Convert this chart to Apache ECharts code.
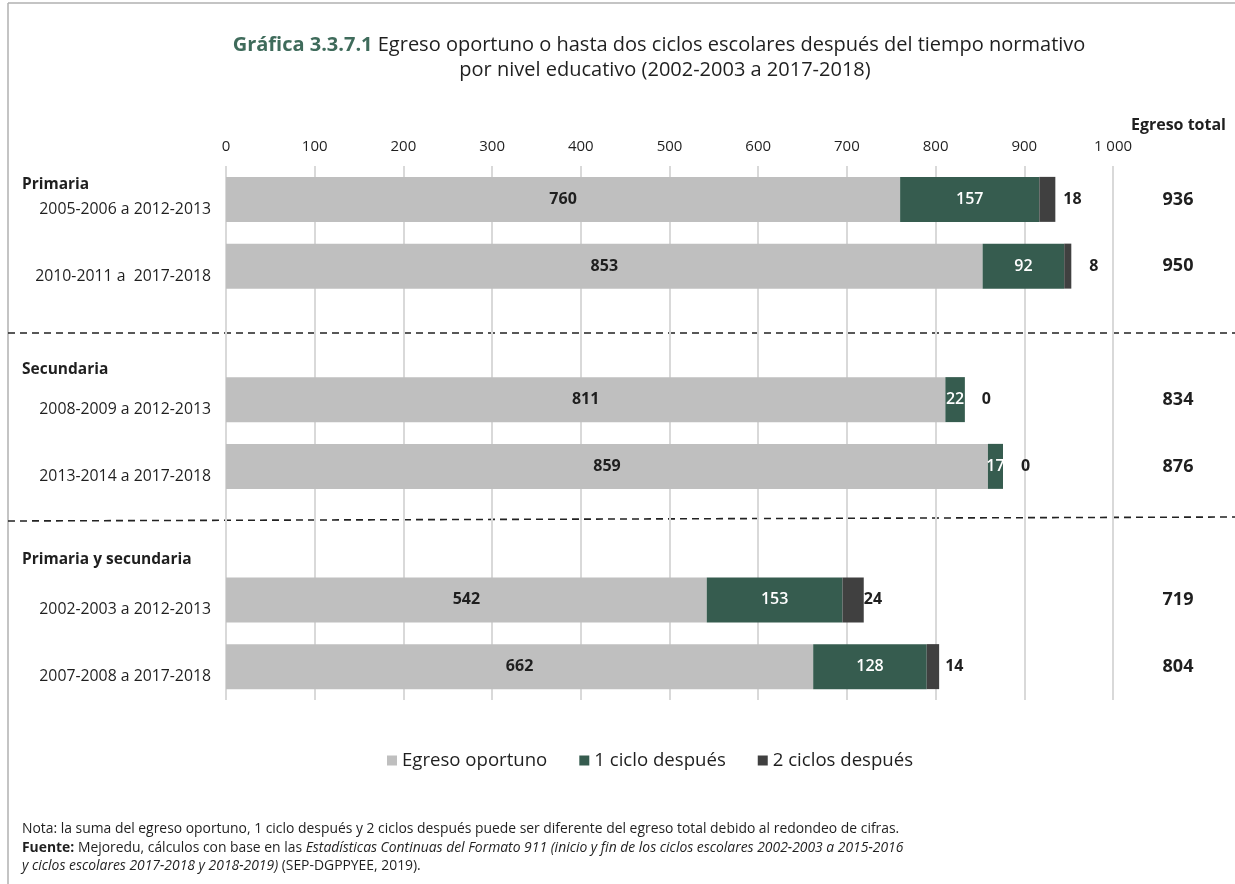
<!DOCTYPE html>
<html>
<head>
<meta charset="utf-8">
<script src="https://cdn.jsdelivr.net/npm/echarts@6/dist/echarts.min.js"></script>
<style>
  html, body { margin: 0; padding: 0; background: #ffffff; }
  #chart { width: 1235px; height: 884px; }
</style>
</head>
<body>
<div id="chart"></div>
<script>
// Cohorts (rows) and the level each pair of rows belongs to
const levels = ['Primaria', 'Secundaria', 'Primaria y secundaria'];
const cohorts = [
  '2005-2006 a 2012-2013',
  '2010-2011 a  2017-2018',
  '2008-2009 a 2012-2013',
  '2013-2014 a 2017-2018',
  '2002-2003 a 2012-2013',
  '2007-2008 a 2017-2018'
];
const cohortLevel = [0, 0, 1, 1, 2, 2];

// Graduates (thousands)
const egresoOportuno = [760, 853, 811, 859, 542, 662];
const unCiclo = [157, 92, 22, 17, 153, 128];
const dosCiclos = [18, 8, 0, 0, 24, 14];
const egresoTotal = [936, 950, 834, 876, 719, 804];

const xTickLabels = { 1000: '1 000' };
const seriesNames = ['Egreso oportuno', '1 ciclo después', '2 ciclos después'];

// Build the category slots: an empty slot separates each level
const slotIndex = [];
const slotLabels = [];
cohorts.forEach((c, i) => {
  if (i > 0 && cohortLevel[i] !== cohortLevel[i - 1]) slotLabels.push('');
  slotIndex.push(slotLabels.length);
  slotLabels.push(c);
});
function toSlots(values) {
  const out = slotLabels.map(() => null);
  values.forEach((v, i) => { out[slotIndex[i]] = v; });
  return out;
}
const totalBySlot = toSlots(egresoTotal);

// Gap between each bar end and its "2 ciclos" label
const endLabelGap = [8, 18, 17, 18, 0, 6];

const FONT = '"Open Sans", Lato, sans-serif';
const INK = '#1f1f1f';
const COLORS = ['#bfbfbf', '#365c4f', '#404040'];

const chart = echarts.init(document.getElementById('chart'), null, { renderer: 'canvas' });

const option = {
  animation: false,
  backgroundColor: '#ffffff',
  textStyle: { fontFamily: FONT },
  grid: { left: 226, right: 122, top: 166, bottom: 184, containLabel: false },
  legend: {
    left: 382,
    top: 746,
    icon: 'rect',
    itemWidth: 10,
    itemHeight: 10,
    itemGap: 32,
    data: seriesNames,
    textStyle: { fontFamily: FONT, fontSize: 18.6, color: INK }
  },
  xAxis: {
    type: 'value',
    position: 'top',
    min: 0,
    max: 1000,
    interval: 100,
    axisLine: { show: false },
    axisTick: { show: false },
    splitLine: { show: true, lineStyle: { color: '#d9d9d9', width: 2 } },
    axisLabel: {
      margin: 12,
      fontFamily: FONT,
      fontSize: 15,
      color: INK,
      formatter: v => xTickLabels[v] || String(v)
    }
  },
  yAxis: [
    {
      type: 'category',
      inverse: true,
      data: slotLabels,
      axisLine: { show: false },
      axisTick: { show: false },
      splitLine: { show: false },
      axisLabel: {
        margin: 15,
        fontFamily: FONT,
        fontSize: 15.8,
        color: INK,
        lineHeight: 20,
        formatter: v => v ? '\n' + v : ''
      }
    },
    {
      type: 'category',
      inverse: true,
      position: 'right',
      data: slotLabels,
      axisLine: { show: false },
      axisTick: { show: false },
      splitLine: { show: false },
      axisLabel: {
        margin: 65,
        align: 'center',
        fontFamily: FONT,
        fontSize: 18,
        fontWeight: 'bold',
        color: INK,
        formatter: (v, idx) => totalBySlot[idx] == null ? '' : String(totalBySlot[idx])
      }
    }
  ],
  series: [
    {
      name: seriesNames[0],
      type: 'bar',
      stack: 'egreso',
      barWidth: 45,
      itemStyle: { color: COLORS[0] },
      label: {
        show: true,
        position: 'inside',
        fontFamily: FONT,
        fontSize: 16,
        fontWeight: 'bold',
        color: INK
      },
      data: toSlots(egresoOportuno)
    },
    {
      name: seriesNames[1],
      type: 'bar',
      stack: 'egreso',
      barWidth: 45,
      itemStyle: { color: COLORS[1] },
      label: {
        show: true,
        position: 'inside',
        fontFamily: FONT,
        fontSize: 16,
        fontWeight: 600,
        color: '#ffffff'
      },
      data: toSlots(unCiclo)
    },
    {
      name: seriesNames[2],
      type: 'bar',
      stack: 'egreso',
      barWidth: 45,
      itemStyle: { color: COLORS[2] },
      label: {
        show: true,
        position: 'right',
        fontFamily: FONT,
        fontSize: 16,
        fontWeight: 'bold',
        color: INK
      },
      data: toSlots(dosCiclos).map((v, s) => {
        if (v == null) return null;
        const row = slotIndex.indexOf(s);
        return { value: v, label: { distance: endLabelGap[row] } };
      })
    }
  ],
  graphic: [
    // frame
    { type: 'line', silent: true, shape: { x1: 8, y1: 3, x2: 1235, y2: 3 }, style: { stroke: '#b0b0b0', lineWidth: 1.5 } },
    { type: 'line', silent: true, shape: { x1: 8, y1: 3, x2: 8, y2: 884 }, style: { stroke: '#b0b0b0', lineWidth: 1.5 } },
    // level separators
    { type: 'line', silent: true, shape: { x1: 8, y1: 333, x2: 1235, y2: 333 }, style: { stroke: '#222222', lineWidth: 1.6, lineDash: [7, 5] } },
    { type: 'line', silent: true, shape: { x1: 8, y1: 521, x2: 1235, y2: 517 }, style: { stroke: '#222222', lineWidth: 1.6, lineDash: [7, 5] } },
    // title, two centred lines
    {
      type: 'text', silent: true, x: 659, y: 45,
      style: {
        text: '{g|Gráfica 3.3.7.1} Egreso oportuno o hasta dos ciclos escolares después del tiempo normativo',
        align: 'center', verticalAlign: 'middle',
        font: '20px ' + FONT,
        fill: INK,
        rich: { g: { fontFamily: FONT, fontSize: 20, fontWeight: 'bold', fill: '#3f6b5b' } }
      }
    },
    {
      type: 'text', silent: true, x: 665, y: 70,
      style: {
        text: 'por nivel educativo (2002-2003 a 2017-2018)',
        align: 'center', verticalAlign: 'middle',
        font: '20px ' + FONT,
        fill: INK
      }
    },
    // right column header
    {
      type: 'text', silent: true, x: 1226, y: 125,
      style: { text: 'Egreso total', align: 'right', verticalAlign: 'middle', font: 'bold 16px ' + FONT, fill: INK }
    },
    // level headings
    { type: 'text', silent: true, x: 22, y: 185, style: { text: levels[0], verticalAlign: 'middle', font: 'bold 15.5px ' + FONT, fill: INK } },
    { type: 'text', silent: true, x: 22, y: 370, style: { text: levels[1], verticalAlign: 'middle', font: 'bold 15.5px ' + FONT, fill: INK } },
    { type: 'text', silent: true, x: 22, y: 560, style: { text: levels[2], verticalAlign: 'middle', font: 'bold 15.5px ' + FONT, fill: INK } },
    // notes
    {
      type: 'text', silent: true, x: 22, y: 820,
      style: {
        text: 'Nota: la suma del egreso oportuno, 1 ciclo después y 2 ciclos después puede ser diferente del egreso total debido al redondeo de cifras.\n' +
              '{b|Fuente:} Mejoredu, cálculos con base en las {i|Estadísticas Continuas del Formato 911 (inicio y fin de los ciclos escolares 2002-2003 a 2015-2016}\n' +
              '{i|y ciclos escolares 2017-2018 y 2018-2019)} (SEP-DGPPYEE, 2019).',
        font: '13.9px ' + FONT,
        fill: INK,
        lineHeight: 18.5,
        rich: {
          b: { fontFamily: FONT, fontSize: 13.9, fontWeight: 'bold', fill: INK, lineHeight: 18.5 },
          i: { fontFamily: FONT, fontSize: 13.9, fontStyle: 'italic', fill: INK, lineHeight: 18.5 }
        }
      }
    }
  ]
};

chart.setOption(option);
</script>
</body>
</html>
